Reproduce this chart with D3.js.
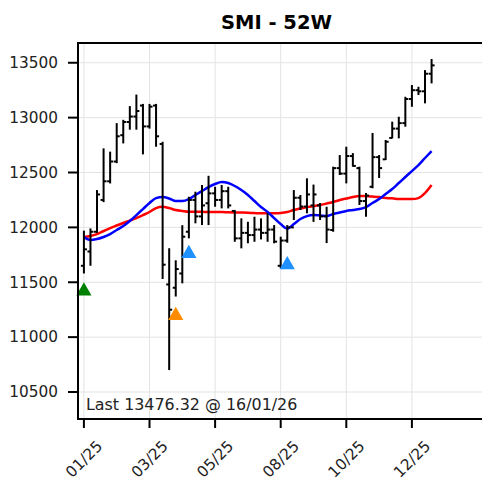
<!DOCTYPE html>
<html>
<head>
<meta charset="utf-8">
<script src="https://cdn.jsdelivr.net/npm/d3@7"></script>
<style>
  body { margin: 0; background: #fff; }
  svg { display: block; font-family: "DejaVu Sans", sans-serif; }
</style>
</head>
<body>
<div id="chart"></div>
<script>
// weekly bars, index 0 = 10/01/25 ... index 53 = 16/01/26
const opens = [11650, 11780, 11960, 12250, 12420, 12600, 12840, 12960, 13010, 13110,
  12920, 13110, 12760, 11480, 11450, 11580, 11960, 12250, 12100, 12220,
  12310, 12250, 12330, 12150, 11900, 11950, 11930, 11980, 11950, 11980,
  11650, 11880, 12000, 12270, 12190, 12200, 12200, 12100, 11976, 12540,
  12490, 12650, 12540, 12240, 12370, 12640, 12620, 12815, 12900, 12950,
  13170, 13250, 13240, 13400];
const highs = [11970, 11990, 12340, 12720, 12690, 12950, 12980, 13105, 13210, 13125,
  13125, 13125, 12780, 11810, 11700, 12020, 12279, 12325, 12386, 12470,
  12370, 12386, 12370, 12158, 12082, 12051, 12097, 12082, 12128, 12021,
  11915, 12021, 12340, 12295, 12447, 12390, 12222, 12188, 12553, 12659,
  12735, 12677, 12553, 12313, 12860, 12659, 12796, 12963, 13008, 13190,
  13297, 13281, 13433, 13534];
const lows = [11580, 11650, 11950, 12230, 12400, 12585, 12765, 12890, 12890, 12665,
  12900, 12735, 11530, 10700, 11370, 11490, 11900, 12037, 12021, 12021,
  12188, 12173, 12173, 11869, 11809, 11855, 11869, 11890, 11869, 11855,
  11627, 11860, 12067, 12158, 12128, 12050, 12067, 11857, 11960, 12477,
  12401, 12553, 12204, 12097, 12356, 12450, 12614, 12811, 12811, 12917,
  13099, 13206, 13130, 13312];
const closes = [11800, 11960, 12300, 12420, 12600, 12830, 12960, 13010, 13060, 12920,
  13100, 12830, 11660, 11250, 11620, 11915, 12250, 12100, 12200, 12310,
  12250, 12330, 12200, 11900, 11950, 11930, 11980, 11950, 11980, 11870,
  11880, 12000, 12270, 12190, 12300, 12300, 12100, 11980, 12540, 12490,
  12650, 12560, 12240, 12290, 12640, 12540, 12780, 12900, 12950, 13170,
  13250, 13240, 13400, 13476.32];

// moving averages
const maBlue = [11912, 11885, 11894, 11912, 11939, 11976, 12012, 12058, 12112, 12167,
  12222, 12267, 12276, 12263, 12240, 12240, 12258, 12295, 12331, 12367,
  12395, 12413, 12404, 12377, 12340, 12295, 12240, 12185, 12140, 12085,
  12030, 11989, 12030, 12076, 12103, 12112, 12108, 12103, 12121, 12135,
  12149, 12158, 12167, 12185, 12222, 12258, 12304, 12349, 12404, 12459,
  12513, 12568, 12632, 12695];
const maRed = [11912, 11921, 11939, 11967, 11994, 12017, 12040, 12062, 12085, 12112,
  12140, 12176, 12188, 12176, 12158, 12149, 12142, 12142, 12142, 12140,
  12140, 12140, 12138, 12136, 12135, 12133, 12130, 12128, 12128, 12128,
  12131, 12140, 12158, 12172, 12185, 12194, 12203, 12217, 12231, 12249,
  12263, 12276, 12285, 12285, 12281, 12276, 12267, 12265, 12258, 12258,
  12258, 12267, 12313, 12386];

// signal markers
const signalIdx = [0, 14, 16, 31];
const signalVal = [11429, 11206, 11771, 11668];
const signalColor = ["#008000", "#ff8c00", "#1e90ff", "#1e90ff"];

const tickIdx = [0, 10, 20, 30, 40, 50];
const tickLabels = ["01/25", "03/25", "05/25", "08/25", "10/25", "12/25"];
const yTicks = [10500, 11000, 11500, 12000, 12500, 13000, 13500];

const W = 482, H = 480;
const margin = { left: 78, top: 43, bottom: 419, right: 486 };

const svg = d3.select("#chart").append("svg")
  .attr("width", W).attr("height", H);

const x = d3.scaleLinear().domain([-0.9, 61]).range([margin.left, margin.left + 61.9 * 6.56]);
const y = d3.scaleLinear().domain([10254, 13680]).range([margin.bottom, margin.top]);

// grid
svg.append("g").selectAll("line").data(tickIdx).join("line")
  .attr("x1", d => x(d)).attr("x2", d => x(d))
  .attr("y1", margin.top).attr("y2", margin.bottom)
  .attr("stroke", "#e3e3e3").attr("stroke-width", 1);
svg.append("g").selectAll("line").data(yTicks).join("line")
  .attr("x1", margin.left).attr("x2", margin.right)
  .attr("y1", d => y(d)).attr("y2", d => y(d))
  .attr("stroke", "#e3e3e3").attr("stroke-width", 1);

// moving averages
const line = arr => d3.line().x((d, i) => x(i)).y(d => y(d)).curve(d3.curveMonotoneX)(arr);
svg.append("path").attr("d", line(maRed))
  .attr("fill", "none").attr("stroke", "#ff0000").attr("stroke-width", 2.5);
svg.append("path").attr("d", line(maBlue))
  .attr("fill", "none").attr("stroke", "#0000ff").attr("stroke-width", 2.5);

// OHLC bars
const bars = svg.append("g").attr("stroke", "#000").attr("stroke-width", 2);
highs.forEach((h, i) => {
  const cx = x(i);
  bars.append("line").attr("x1", cx).attr("x2", cx).attr("y1", y(h)).attr("y2", y(lows[i]));
  bars.append("line").attr("x1", cx - 3).attr("x2", cx).attr("y1", y(opens[i])).attr("y2", y(opens[i]));
  bars.append("line").attr("x1", cx).attr("x2", cx + 3).attr("y1", y(closes[i])).attr("y2", y(closes[i]));
});

// signal triangles
const tri = d3.symbol().type(d3.symbolTriangle).size(100);
svg.append("g").selectAll("path").data(signalIdx).join("path")
  .attr("d", tri)
  .attr("transform", (d, k) => `translate(${x(d)},${y(signalVal[k]) + 1})`)
  .attr("fill", (d, k) => signalColor[k]);

// spines
svg.append("path")
  .attr("d", `M${margin.right},${margin.top}H${margin.left}V${margin.bottom}H${margin.right}`)
  .attr("fill", "none").attr("stroke", "#000").attr("stroke-width", 2);

// y axis ticks
const yt = svg.append("g").selectAll("g").data(yTicks).join("g")
  .attr("transform", d => `translate(0,${y(d)})`);
yt.append("line").attr("x1", margin.left - 10).attr("x2", margin.left)
  .attr("stroke", "#000").attr("stroke-width", 2);
yt.append("text").attr("x", margin.left - 20).attr("dy", "0.35em")
  .attr("text-anchor", "end").attr("font-size", 15.3).attr("fill", "#222")
  .text(d => d);

// x axis ticks
const xt = svg.append("g").selectAll("g").data(tickIdx).join("g")
  .attr("transform", d => `translate(${x(d)},0)`);
xt.append("line").attr("y1", margin.bottom).attr("y2", margin.bottom + 9)
  .attr("stroke", "#000").attr("stroke-width", 2);
xt.append("text")
  .attr("transform", "translate(0,459) rotate(-45)")
  .attr("text-anchor", "middle").attr("dy", "0.35em")
  .attr("font-size", 15.3).attr("fill", "#222")
  .text((d, k) => tickLabels[k]);

// title and last value
svg.append("text").attr("x", 276.5).attr("y", 29)
  .attr("text-anchor", "middle").attr("font-size", 19.5).attr("font-weight", "bold")
  .text("SMI - 52W");
svg.append("text").attr("x", 86).attr("y", 409.5)
  .attr("font-size", 15.9).attr("fill", "#222")
  .text(`Last ${closes[closes.length - 1].toFixed(2)} @ 16/01/26`);
</script>
</body>
</html>
